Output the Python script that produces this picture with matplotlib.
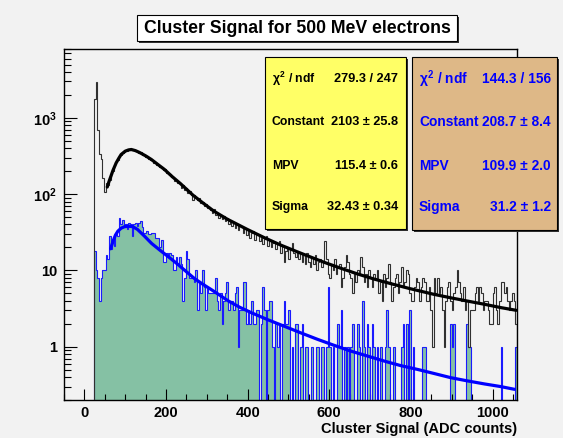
import numpy as np
import matplotlib
matplotlib.use('Agg')
import matplotlib.pyplot as plt
from matplotlib.patches import Rectangle
from matplotlib.ticker import MultipleLocator, LogLocator, NullFormatter

plt.rcParams['font.family'] = ['Liberation Sans', 'DejaVu Sans']
plt.rcParams['font.weight'] = 'bold'
plt.rcParams['mathtext.fontset'] = 'custom'
plt.rcParams['mathtext.rm'] = 'Liberation Sans:bold'
plt.rcParams['mathtext.bf'] = 'Liberation Sans:bold'
plt.rcParams['mathtext.it'] = 'Liberation Sans:bold'

W, H = 563, 438
BG = '#f2f2f2'
GREEN = '#85c1a4'

# ── Data ──────────────────────────────────────────────────────────────────────
# histograms: bins of 4 ADC counts starting at 24
BIN_LO, BIN_W = 24, 4

black_counts = [
    1780, 2940, 690, 340, 285, 165, 108, 138, 131, 152,   # 24-64
    181, 199, 238, 262, 277, 310, 322, 350, 358, 376,      # 64-104
    372, 395, 380, 379, 383, 364, 371, 349, 352, 330,      # 104-144
    331, 309, 314, 290, 283, 281, 258, 260, 239, 241,      # 144-184
    226, 229, 208, 211, 190, 183, 186, 168, 170, 150,      # 184-224
    152, 139, 141, 122, 131, 115, 119, 104, 110, 98,       # 224-264
    84, 97, 92, 83, 88, 76, 79, 70, 75, 66,                # 264-304
    68, 62, 57, 63, 53, 57, 49, 54, 47, 52,                # 304-344
    44, 49, 41, 45, 38, 43, 36, 41, 34, 38,                # 344-384
    37, 31, 36, 29, 33, 27, 31, 33, 25, 29,                # 384-424
    29, 24, 27, 22, 26, 28, 21, 24, 20, 23,                # 424-464
    23, 19, 22, 24, 17, 21, 13, 18, 20, 14,                # 464-504
    19, 23, 17, 15, 18, 14, 17, 13, 16, 12,                # 504-544
    17, 13, 11, 15, 12, 16, 10, 13, 14, 11,                # 544-584
    13, 24, 14, 9, 8, 12, 10, 14, 9, 11,                   # 584-624
    12, 6, 8, 11, 16, 13, 9, 8, 5, 9,                      # 624-664
    7, 10, 9, 15, 11, 7, 9, 6, 10, 8,                      # 664-704
    6, 9, 8, 10, 5, 7, 4, 9, 6, 8,                         # 704-744
    12, 7, 4, 6, 8, 9, 5, 7, 11, 6,                        # 744-784
    7, 10, 9, 5, 4, 4, 6, 8, 7, 4,                         # 784-824
    6, 8, 7, 4, 4, 6, 3, 1, 8, 5,                          # 824-864
    8, 5, 6, 3, 1, 4, 6, 7, 4, 3,                          # 864-904
    5, 6, 10, 7, 5, 4, 6, 3, 4, 1,                         # 904-944
    3, 3, 3, 5, 6, 4, 6, 5, 3, 4,                          # 944-984
    4, 3, 2, 2, 5, 6, 3, 2, 4, 7,                          # 984-1024
    7, 5, 6, 4, 3, 4, 5, 4, 2,                             # 1024-1060
]

blue_counts = [
    18, 10, 8, 4, 8, 10, 10, 16, 14, 28,     # 24-64
    19, 24, 21, 30, 28, 48, 40, 46, 37, 40,  # 64-104
    35, 42, 40, 28, 40, 42, 38, 42, 44, 37,  # 104-144
    31, 31, 33, 30, 30, 31, 31, 27, 27, 27,  # 144-184
    20, 25, 13, 13, 17, 15, 17, 16, 10, 10,  # 184-224
    15, 12, 15, 12, 4, 8, 18, 14, 8, 8,      # 224-264
    8, 7, 10, 3, 7, 5, 10, 6, 3, 6,          # 264-304
    5, 5, 5, 5, 8, 4, 3, 5, 2, 4,            # 304-344
    5, 7, 3, 4, 4, 3, 5, 6, 1, 3,            # 344-384
    3, 7, 7, 2, 3, 2, 4, 2, 2, 3,            # 384-424
    3, 0, 2, 6, 3, 0, 3, 4, 4, 1,            # 424-464
    0, 2, 1, 2, 0, 2, 4, 2, 2, 3,            # 464-504
    0, 1, 0, 2, 2, 0, 1, 2, 0, 1,            # 504-544
    1, 0, 0, 1, 0, 0, 1, 1, 0, 1,            # 544-584
    1, 0, 1, 6, 1, 0, 1, 0, 0, 2,            # 584-624
    1, 3, 0, 1, 0, 1, 0, 1, 2, 0,            # 624-664
    0, 2, 1, 0, 4, 1, 0, 2, 1, 0,            # 664-704
    2, 1, 0, 1, 0, 1, 0, 0, 1, 3,            # 704-744
    1, 0, 0, 1, 0, 0, 0, 0, 1, 2,            # 744-784
    0, 2, 0, 3, 0, 1, 0, 0, 0, 0,            # 784-824
    0, 1, 1, 0, 0, 0, 0, 0, 0, 0,            # 824-864
    0, 0, 0, 0, 0, 0, 0, 0, 2, 1,            # 864-904
    2, 0, 0, 0, 0, 0, 0, 0, 2, 1,            # 904-944
    1, 0, 0, 0, 0, 0, 0, 0, 0, 0,            # 944-984
    0, 0, 0, 0, 0, 0, 0, 0, 0, 1,            # 984-1024
    0, 0, 0, 0, 0, 0, 0, 0, 1,               # 1024-1060
]

# Landau fit curves
black_fit_x = [56, 60, 65, 70, 78, 85, 90, 100, 108, 115, 125, 135, 150, 164, 180,
               196, 215, 235, 266, 290, 317, 350, 399, 440, 481, 522, 587, 630,
               669, 710, 751, 796, 857, 900, 939, 980, 1021, 1058]
black_fit_y = [124, 145, 172, 205, 258, 300, 331, 366, 380, 385, 372, 352, 318, 285, 245,
               211, 170, 138, 97, 77, 60, 47, 34.5, 27, 21.5, 17.5, 12.8, 10.6,
               9.0, 7.7, 6.7, 5.8, 4.85, 4.35, 3.96, 3.6, 3.25, 3.0]
blue_fit_x = [64, 70, 76, 82, 90, 98, 108, 119, 130, 147, 165, 188, 210, 229, 250,
              270, 290, 311, 330, 352, 380, 409, 450, 489, 530, 571, 610, 653,
              695, 735, 775, 816, 857, 898, 940, 980, 1020, 1054]
blue_fit_y = [19.2, 24, 29, 32.7, 35.8, 37.4, 38, 37.4, 34.5, 28.2, 22.5, 17.9, 14.5, 12, 9.6,
              7.8, 6.6, 5.6, 4.8, 4.0, 3.3, 2.79, 2.25, 1.86, 1.52, 1.25, 1.05, 0.875,
              0.75, 0.647, 0.565, 0.504, 0.445, 0.392, 0.355, 0.325, 0.30, 0.276]

stat_labels = [r'$\chi^{2}$ / ndf', 'Constant', 'MPV', 'Sigma']
black_stats = ['279.3 / 247', '2103 \u00b1 25.8', '115.4 \u00b1 0.6', '32.43 \u00b1 0.34']
blue_stats = ['144.3 / 156', '208.7 \u00b1 8.4', '109.9 \u00b1 2.0', '31.2 \u00b1 1.2']

title = 'Cluster Signal for 500 MeV electrons'
x_label = 'Cluster Signal (ADC counts)'

# ── Figure ────────────────────────────────────────────────────────────────────
def fx(px):
    return px / W

def fy(py):
    return 1 - py / H

fig = plt.figure(figsize=(W / 100, H / 100), dpi=100)
fig.patch.set_facecolor(BG)
ax = fig.add_axes([fx(64), fy(400), fx(517) - fx(64), fy(49) - fy(400)])
ax.set_facecolor(BG)

edges = BIN_LO + BIN_W * np.arange(len(black_counts) + 1)
floor = 1e-3
blue_arr = np.array(blue_counts, dtype=float)
blue_arr[blue_arr <= 0] = floor

ax.stairs(blue_arr, edges, fill=True, color=GREEN, baseline=floor, zorder=1)
ax.stairs(blue_arr, edges, color='#1a1aff', lw=0.8, baseline=floor, zorder=2)
ax.stairs(black_counts, edges, color='#303030', lw=0.8, baseline=floor, zorder=3)
ax.plot(black_fit_x, black_fit_y, color='black', lw=2.3, zorder=4, solid_capstyle='round')
ax.plot(blue_fit_x, blue_fit_y, color='#0000ff', lw=2.3, zorder=4, solid_capstyle='round')

ax.set_yscale('log')
ax.set_xlim(-50, 1060)
ax.set_ylim(0.2, 8000)

ax.set_xticks([0, 200, 400, 600, 800, 1000])
ax.xaxis.set_minor_locator(MultipleLocator(50))
ax.set_yticks([1, 10, 100, 1000],
              labels=['1', '10', r'$\mathbf{10^{2}}$', r'$\mathbf{10^{3}}$'])
ax.yaxis.set_minor_locator(LogLocator(base=10, subs=np.arange(2, 10)))
ax.yaxis.set_minor_formatter(NullFormatter())

ax.tick_params(axis='both', which='both', direction='in', top=False, right=False,
               labelsize=10.5, colors='black')
ax.tick_params(axis='x', which='major', length=8, width=0.8, pad=4)
ax.tick_params(axis='x', which='minor', length=4, width=0.8)
ax.tick_params(axis='y', which='major', length=9.5, width=0.8, pad=5)
ax.tick_params(axis='y', which='minor', length=5, width=0.8)
for lab in ax.get_xticklabels() + ax.get_yticklabels():
    lab.set_fontweight('bold')
for sp in ax.spines.values():
    sp.set_linewidth(1.0)
    sp.set_color('black')

fig.text(fx(517), fy(429), x_label, ha='right', va='center', fontsize=10.5,
         fontweight='bold')

# ── Title box ─────────────────────────────────────────────────────────────────
def box(x0, y0, x1, y1, face, shadow=2):
    fig.patches.append(Rectangle((fx(x0 + shadow), fy(y1 + shadow)), fx(x1) - fx(x0),
                                 fy(y0) - fy(y1), transform=fig.transFigure,
                                 facecolor='#303030', edgecolor='none', zorder=5))
    fig.patches.append(Rectangle((fx(x0), fy(y1)), fx(x1) - fx(x0), fy(y0) - fy(y1),
                                 transform=fig.transFigure, facecolor=face,
                                 edgecolor='black', lw=0.8, zorder=6))

box(137, 15, 457, 41, 'white')
fig.text(fx(297), fy(28.5), title, ha='center', va='center', fontsize=12.7,
         fontweight='bold', zorder=7)

# ── Stats boxes ───────────────────────────────────────────────────────────────
rows_y = [79, 122, 166, 207]
box(265, 57, 406, 229, '#ffff66')
for lab, val, y in zip(stat_labels, black_stats, rows_y):
    fig.text(fx(272), fy(y), lab, ha='left', va='center', fontsize=8.8,
             fontweight='bold', zorder=7)
    fig.text(fx(398), fy(y), val, ha='right', va='center', fontsize=9.2,
             fontweight='bold', zorder=7)

box(412, 57, 557, 230, '#deb887')
for lab, val, y in zip(stat_labels, blue_stats, rows_y):
    fig.text(fx(419), fy(y), lab, ha='left', va='center', fontsize=9.9,
             fontweight='bold', color='#0000ff', zorder=7)
    fig.text(fx(551), fy(y), val, ha='right', va='center', fontsize=9.9,
             fontweight='bold', color='#0000ff', zorder=7)

fig.savefig('out.png', dpi=100, facecolor=BG)
